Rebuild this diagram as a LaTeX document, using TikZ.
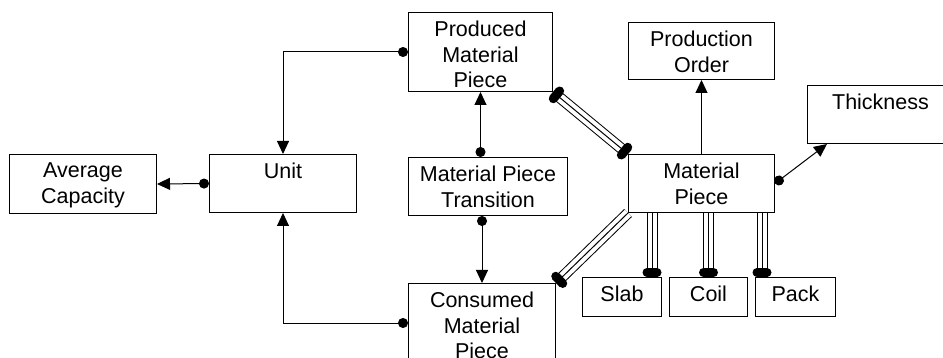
\documentclass[tikz,border=0pt]{standalone}
\usepackage{fontspec}
\setmainfont{Liberation Sans}
\usetikzlibrary{arrows.meta,calc}

\tikzset{
  box/.style={draw,rectangle,anchor=north west,inner sep=0pt,minimum width=146pt,minimum height=58pt},
  boxtext/.style={anchor=north,align=center,inner sep=0pt,yshift=-8.5pt,font=\fontsize{21.5}{25.5}\selectfont},
  link/.style={{Circle[length=10pt]}-{Triangle[length=13pt,width=12pt]}},
  tripleline/.style={line width=11pt,postaction={draw=white,line width=9pt},postaction={draw=black,line width=1pt}}
}
% filled end of a triple line, at #1, facing #2
\newcommand{\blobend}[2]{\draw[line width=9pt,line cap=round] ($(#1)!4.5pt!(#2)!5pt!90:(#2)$) -- ($(#1)!4.5pt!(#2)!5pt!-90:(#2)$);}

\begin{document}
\begin{tikzpicture}[x=1pt,y=-1pt,line width=1pt]
\path[use as bounding box,clip] (0,0) rectangle (943,358);

\draw (9,154) node[box,minimum width=147pt,minimum height=59pt,label={[boxtext]north:Average\\Capacity}] (avg) {};
\draw (209,154) node[box,minimum width=147pt,label={[boxtext]north:Unit}] (unit) {};
\draw (408,12) node[box,minimum width=144pt,minimum height=79pt,label={[boxtext]north:Produced\\Material\\Piece}] (prod) {};
\draw (408,157) node[box,minimum width=159pt,label={[boxtext]north:Material Piece\\Transition}] (mpt) {};
\draw (408,283) node[box,minimum width=147pt,minimum height=79pt,label={[boxtext]north:Consumed\\Material\\Piece}] (cons) {};
\draw (628,22) node[box,minimum height=57pt,label={[boxtext]north:Production\\Order}] (po) {};
\draw (628,154) node[box,label={[boxtext]north:Material\\Piece}] (mp) {};
\draw (807,85) node[box,label={[boxtext]north:Thickness}] (thick) {};
\draw (582,277) node[box,minimum width=79pt,minimum height=39pt,label={[boxtext]north:Slab}] (slab) {};
\draw (669,277) node[box,minimum width=78pt,minimum height=39pt,label={[boxtext]north:Coil}] (coil) {};
\draw (755,277) node[box,minimum width=80pt,minimum height=39pt,label={[boxtext]north:Pack}] (pack) {};

\draw[link] (prod.west) -| (unit.north);
\draw[link] (unit.west) -- (avg.east);
\draw[link] (cons.west) -| (unit.south);
\draw[link] (mpt.north -| prod.south) -- (prod.south);
\draw[link] (mpt.south -| cons.north) -- (cons.north);
\draw[-{Triangle[length=13pt,width=12pt]}] (mp.north) -- (po.south);
\coordinate (thickin) at ([xshift=20pt]thick.south west);
\draw[link] (mp.east) -- (thickin);

\draw[tripleline] (prod.south east) -- (mp.north west);
\blobend{prod.south east}{mp.north west}
\blobend{mp.north west}{prod.south east}
\draw[tripleline] (cons.north east) -- (mp.south west);
\blobend{cons.north east}{mp.south west}
\foreach \sub/\shift/\corner in {slab/-10pt/north east,coil/0pt/north,pack/7pt/north west} {
  \coordinate (\sub top) at ([xshift=\shift]\sub.\corner);
  \coordinate (\sub mp) at (\sub top |- mp.south);
  \draw[tripleline] (\sub mp) -- (\sub top);
  \blobend{\sub top}{\sub mp}
}
\end{tikzpicture}
\end{document}
